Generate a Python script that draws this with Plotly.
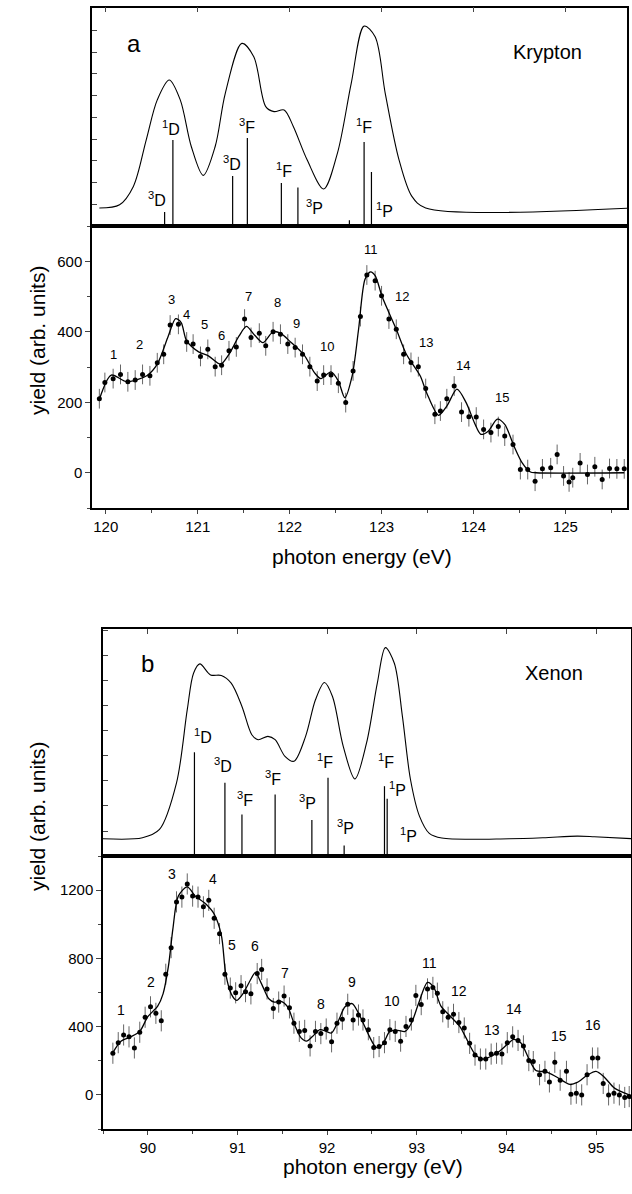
import plotly.graph_objects as go

# ---------------- Panel a: Krypton ----------------
kr_energy = [119.93, 119.99, 120.08, 120.16, 120.24, 120.32, 120.40, 120.48, 120.56, 120.63, 120.70,
             120.79, 120.88, 120.95, 121.03, 121.11, 121.19, 121.26, 121.34, 121.42, 121.51,
             121.58, 121.67, 121.74, 121.82, 121.90, 121.98, 122.06, 122.14, 122.22, 122.30,
             122.37, 122.45, 122.53, 122.61, 122.69, 122.77, 122.84, 122.93, 123.00, 123.08,
             123.16, 123.24, 123.32, 123.40, 123.48, 123.58, 123.64, 123.71, 123.79, 123.87,
             123.95, 124.03, 124.11, 124.19, 124.27, 124.34, 124.43, 124.51, 124.59, 124.67,
             124.75, 124.84, 124.91, 124.98, 125.04, 125.08, 125.16, 125.24, 125.32, 125.40,
             125.48, 125.56, 125.64]
kr_yield = [210, 256, 267, 279, 258, 263, 279, 275, 312, 336, 419,
            421, 371, 365, 330, 350, 301, 305, 346, 357, 436,
            384, 396, 360, 400, 393, 365, 355, 336, 301, 260,
            277, 277, 254, 199, 289, 443, 561, 545, 502, 436,
            407, 336, 313, 301, 239, 166, 175, 210, 246, 172,
            159, 158, 123, 114, 131, 104, 80, 9, 9, -24,
            11, 14, 52, -9, -26, -14, 28, -5, 17, -19,
            12, 11, 11]
kr_err = 28

kr_fit_e = [119.93, 120.06, 120.23, 120.45, 120.56, 120.68, 120.76, 120.82, 120.88, 121.01,
            121.12, 121.25, 121.34, 121.45, 121.53, 121.62, 121.71, 121.82, 121.90, 122.01,
            122.16, 122.27, 122.34, 122.45, 122.53, 122.60, 122.68, 122.75, 122.82, 122.88,
            122.93, 123.01, 123.16, 123.27, 123.42, 123.49, 123.62, 123.71, 123.82, 123.92,
            124.01, 124.08, 124.16, 124.26, 124.34, 124.44, 124.53, 124.62, 124.68, 125.64]
kr_fit_y = [208, 277, 258, 276, 308, 388, 437, 426, 374, 343,
            331, 308, 336, 388, 415, 390, 369, 400, 396, 371,
            333, 284, 267, 286, 260, 213, 275, 407, 549, 570,
            559, 497, 407, 336, 275, 227, 163, 189, 237, 199,
            142, 109, 118, 152, 137, 76, 28, 2, 0, 0]

kr_peak_labels = ["1", "2", "3", "4", "5", "6", "7", "8", "9", "10", "11", "12", "13", "14", "15"]
kr_peak_e = [120.08, 120.37, 120.71, 120.88, 121.07, 121.26, 121.55, 121.87, 122.08, 122.41,
             122.88, 123.22, 123.48, 123.89, 124.31]
kr_peak_y = [336, 363, 492, 450, 420, 390, 500, 483, 422, 358, 633, 499, 369, 305, 213]

kr_theory_e = [119.93, 120.15, 120.30, 120.44, 120.56, 120.69, 120.81, 120.93, 121.06, 121.19,
               121.30, 121.48, 121.61, 121.74, 121.83, 121.94, 122.04, 122.19, 122.37, 122.52,
               122.67, 122.81, 122.93, 123.04, 123.19, 123.33, 123.48, 125.71]
kr_theory_y = [18.0, 21.3, 39.6, 86.2, 126.1, 146.0, 126.1, 79.5, 50.6, 79.5,
               132.7, 182.6, 169.3, 119.4, 114.4, 116.1, 99.5, 66.2, 37.0, 72.9,
               142.7, 199.9, 189.2, 132.7, 66.2, 29.6, 18.0, 18.0]

kr_stick_e = [120.64, 120.73, 121.38, 121.54, 121.91, 122.09, 122.65, 122.81, 122.89]
kr_stick_h = [14, 86, 50, 88, 43, 38.6, 5.7, 84, 54]

kr_term_text = ["<sup>3</sup>D", "<sup>1</sup>D", "<sup>3</sup>D", "<sup>3</sup>F", "<sup>1</sup>F",
                "<sup>3</sup>P", "<sup>1</sup>F", "<sup>1</sup>P"]
kr_term_e = [120.56, 120.71, 121.37, 121.54, 121.94, 122.27, 122.81, 123.03]
kr_term_y = [27, 98, 63, 100, 56, 19, 100, 16]

# ---------------- Panel b: Xenon ----------------
xe_energy = [89.61, 89.67, 89.73, 89.79, 89.85, 89.91, 89.97, 90.03, 90.09, 90.15,
             90.20, 90.26, 90.32, 90.38, 90.44, 90.50, 90.56, 90.62, 90.68, 90.74,
             90.80, 90.86, 90.92, 90.98, 91.04, 91.09, 91.15, 91.22, 91.27, 91.33,
             91.40, 91.46, 91.52, 91.58, 91.63, 91.69, 91.75, 91.81, 91.87, 91.93,
             91.99, 92.05, 92.11, 92.17, 92.23, 92.29, 92.35, 92.40, 92.46, 92.52,
             92.58, 92.64, 92.70, 92.76, 92.82, 92.88, 92.94, 92.99, 93.05, 93.12,
             93.18, 93.23, 93.29, 93.35, 93.41, 93.47, 93.53, 93.59, 93.65, 93.71,
             93.77, 93.83, 93.89, 93.95, 94.01, 94.07, 94.13, 94.19, 94.25, 94.30,
             94.37, 94.43, 94.48, 94.54, 94.60, 94.67, 94.72, 94.78, 94.84, 94.90,
             94.96, 95.02, 95.08, 95.14, 95.20, 95.26, 95.32, 95.37]
xe_yield = [244, 306, 351, 340, 275, 367, 455, 516, 478, 434,
            707, 863, 1131, 1159, 1236, 1165, 1159, 1102, 1140, 1035,
            945, 707, 626, 598, 640, 605, 592, 711, 735, 621,
            506, 544, 579, 510, 420, 372, 378, 287, 372, 359,
            386, 311, 420, 443, 531, 439, 468, 439, 382, 277,
            283, 306, 382, 372, 315, 401, 439, 583, 529, 621,
            630, 596, 487, 455, 472, 424, 392, 302, 233, 210,
            210, 239, 244, 239, 306, 340, 319, 287, 201, 195,
            118, 138, 76, 191, 86, 138, 4, 10, 0, 118,
            216, 216, 67, 0, 10, 0, -15, -10]
xe_err = 62

xe_fit_e = [89.61, 89.70, 89.81, 89.91, 90.00, 90.11, 90.17, 90.23, 90.28, 90.34,
            90.44, 90.53, 90.65, 90.74, 90.82, 90.87, 90.93, 90.99, 91.06, 91.14,
            91.20, 91.27, 91.35, 91.41, 91.48, 91.56, 91.63, 91.71, 91.77, 91.84,
            91.92, 91.99, 92.05, 92.13, 92.20, 92.28, 92.36, 92.47, 92.55, 92.62,
            92.70, 92.79, 92.87, 92.94, 93.02, 93.12, 93.19, 93.27, 93.38, 93.48,
            93.55, 93.65, 93.74, 93.84, 93.93, 94.03, 94.08, 94.16, 94.26, 94.33,
            94.45, 94.56, 94.71, 94.79, 94.90, 95.00, 95.09, 95.21, 95.37]
xe_fit_y = [248, 315, 340, 372, 458, 520, 592, 754, 974, 1165,
            1219, 1165, 1117, 1060, 936, 707, 592, 554, 592, 669,
            716, 649, 563, 544, 550, 516, 420, 334, 315, 344,
            382, 372, 363, 439, 516, 535, 468, 344, 277, 296,
            372, 378, 372, 420, 535, 659, 630, 520, 458, 401,
            334, 239, 210, 229, 258, 306, 325, 306, 201, 143,
            134, 105, 61, 73, 115, 138, 105, 38, 0]

xe_peak_labels = ["1", "2", "3", "4", "5", "6", "7", "8", "9", "10", "11", "12", "13", "14", "15", "16"]
xe_peak_e = [89.70, 90.03, 90.27, 90.73, 90.94, 91.19, 91.53, 91.93, 92.28, 92.72,
             93.14, 93.47, 93.84, 94.08, 94.59, 94.97]
xe_peak_y = [500, 659, 1295, 1264, 879, 873, 716, 535, 663, 550, 770, 607, 382, 502, 344, 407]

xe_theory_e = [89.49, 89.94, 90.13, 90.32, 90.44, 90.51, 90.58, 90.70, 90.82, 90.93,
               91.05, 91.16, 91.23, 91.34, 91.42, 91.53, 91.63, 91.76, 91.87, 91.97,
               92.06, 92.18, 92.31, 92.44, 92.56, 92.65, 92.75, 92.84, 92.93, 93.03,
               93.14, 93.28, 94.03, 94.41, 94.79, 94.98, 95.41]
xe_theory_y = [17.6, 18.6, 27.1, 74.6, 149.2, 186.4, 195.9, 184.7, 184.1, 176.3,
               152.5, 123.7, 118.6, 122.0, 118.6, 101.7, 96.6, 122.0, 159.3, 177.0,
               162.7, 111.9, 78.6, 115.3, 176.3, 212.5, 196.6, 142.4, 78.0, 40.7,
               23.1, 18.3, 17.6, 18.6, 20.3, 19.7, 17.6]

xe_stick_e = [90.52, 90.86, 91.05, 91.42, 91.83, 92.01, 92.19, 92.64, 92.67, 92.93]
xe_stick_h = [105.8, 74.6, 42.4, 62.7, 36.6, 79.7, 10.8, 71.2, 58.3, 2.0]

xe_term_text = ["<sup>1</sup>D", "<sup>3</sup>D", "<sup>3</sup>F", "<sup>3</sup>F", "<sup>3</sup>P",
                "<sup>1</sup>F", "<sup>3</sup>P", "<sup>1</sup>F", "<sup>1</sup>P", "<sup>1</sup>P"]
xe_term_e = [90.62, 90.84, 91.08, 91.40, 91.78, 91.98, 92.21, 92.66, 92.78, 92.91]
xe_term_y = [122, 93, 58, 80, 55, 97, 30, 97, 68, 21]

# ---------------- figure ----------------
W, H = 632, 1194
FONT = "Arial, Liberation Sans, Helvetica, sans-serif"


def px_x(px):
    return px / W


def px_y(py):
    return 1 - py / H


def stick_xy(energies, heights):
    xs, ys = [], []
    for e, h in zip(energies, heights):
        xs += [e, e, None]
        ys += [0, h, None]
    return xs, ys


fig = go.Figure()

# Panel a lower: data + fit
fig.add_trace(go.Scatter(x=kr_energy, y=kr_yield, mode="markers", xaxis="x", yaxis="y",
                         marker=dict(color="black", size=5),
                         error_y=dict(type="constant", value=kr_err, color="#666666", thickness=1, width=0)))
fig.add_trace(go.Scatter(x=kr_fit_e, y=kr_fit_y, mode="lines", xaxis="x", yaxis="y",
                         line=dict(color="black", width=1.3, shape="spline", smoothing=0.8)))
# Panel a upper: theory
fig.add_trace(go.Scatter(x=kr_theory_e, y=kr_theory_y, mode="lines", xaxis="x2", yaxis="y2",
                         line=dict(color="black", width=1.1, shape="spline", smoothing=0.9)))
sx, sy = stick_xy(kr_stick_e, kr_stick_h)
fig.add_trace(go.Scatter(x=sx, y=sy, mode="lines", xaxis="x2", yaxis="y2",
                         line=dict(color="black", width=1.2)))

# Panel b lower
fig.add_trace(go.Scatter(x=xe_energy, y=xe_yield, mode="markers", xaxis="x3", yaxis="y3",
                         marker=dict(color="black", size=5),
                         error_y=dict(type="constant", value=xe_err, color="#666666", thickness=1, width=0)))
fig.add_trace(go.Scatter(x=xe_fit_e, y=xe_fit_y, mode="lines", xaxis="x3", yaxis="y3",
                         line=dict(color="black", width=1.3, shape="spline", smoothing=0.8)))
# Panel b upper
fig.add_trace(go.Scatter(x=xe_theory_e, y=xe_theory_y, mode="lines", xaxis="x4", yaxis="y4",
                         line=dict(color="black", width=1.1, shape="spline", smoothing=0.9)))
sx, sy = stick_xy(xe_stick_e, xe_stick_h)
fig.add_trace(go.Scatter(x=sx, y=sy, mode="lines", xaxis="x4", yaxis="y4",
                         line=dict(color="black", width=1.2)))

KR_RANGE = [119.85, 125.67]
XE_RANGE = [89.50, 95.39]
dom_a_x = [px_x(92), px_x(627)]
dom_b_x = [px_x(103), px_x(631)]
dom_a_up = [px_y(226), px_y(7.5)]
dom_a_lo = [px_y(508), px_y(226)]
dom_b_up = [px_y(856), px_y(629)]
dom_b_lo = [px_y(1129), px_y(856)]

frame = dict(showline=True, linecolor="black", linewidth=1.5, mirror=True,
             showgrid=False, zeroline=False)
tickfont = dict(family=FONT, size=15, color="black")

fig.update_layout(
    width=W, height=H, margin=dict(l=0, r=0, t=0, b=0),
    paper_bgcolor="white", plot_bgcolor="white", showlegend=False,
    font=dict(family=FONT, color="black"),
    # panel a lower
    xaxis=dict(domain=dom_a_x, anchor="y", range=KR_RANGE, dtick=1, tick0=120,
               ticks="outside", ticklen=4, tickwidth=1, tickfont=tickfont,
               minor=dict(dtick=0.5, ticks="outside", ticklen=3, tickwidth=1), **frame),
    yaxis=dict(domain=dom_a_lo, anchor="x", range=[-100, 700], dtick=200, tick0=0,
               ticks="outside", ticklen=5, tickwidth=1, tickfont=tickfont,
               minor=dict(dtick=100, ticks="outside", ticklen=3, tickwidth=1), **frame),
    # panel a upper
    xaxis2=dict(domain=dom_a_x, anchor="y2", range=KR_RANGE, side="top", dtick=1, tick0=120,
                ticks="inside", ticklen=5, tickwidth=1, showticklabels=False, **frame),
    yaxis2=dict(domain=dom_a_up, anchor="x2", range=[0, 218.5], dtick=21.75, tick0=0,
                ticks="inside", ticklen=5, tickwidth=1, showticklabels=False, **frame),
    # overlay ticks on top edge of panel a lower
    xaxis5=dict(overlaying="x", anchor="y", side="top", range=KR_RANGE, dtick=1, tick0=120,
                ticks="inside", ticklen=5, tickwidth=1, showticklabels=False,
                showline=False, showgrid=False, zeroline=False),
    # panel b lower
    xaxis3=dict(domain=dom_b_x, anchor="y3", range=XE_RANGE, dtick=1, tick0=90,
                ticks="outside", ticklen=4, tickwidth=1, tickfont=tickfont,
                minor=dict(dtick=0.5, ticks="outside", ticklen=3, tickwidth=1), **frame),
    yaxis3=dict(domain=dom_b_lo, anchor="x3", range=[-200, 1400], dtick=400, tick0=0,
                ticks="outside", ticklen=5, tickwidth=1, tickfont=tickfont,
                minor=dict(dtick=200, ticks="outside", ticklen=3, tickwidth=1), **frame),
    # panel b upper
    xaxis4=dict(domain=dom_b_x, anchor="y4", range=XE_RANGE, side="top", dtick=1, tick0=90,
                ticks="inside", ticklen=5, tickwidth=1, showticklabels=False, **frame),
    yaxis4=dict(domain=dom_b_up, anchor="x4", range=[0, 231.5], dtick=25.5, tick0=0,
                ticks="inside", ticklen=5, tickwidth=1, showticklabels=False, **frame),
    xaxis6=dict(overlaying="x3", anchor="y3", side="top", range=XE_RANGE, dtick=1, tick0=90,
                ticks="inside", ticklen=5, tickwidth=1, showticklabels=False,
                showline=False, showgrid=False, zeroline=False),
)

ann = []
for t, e, v in zip(kr_peak_labels, kr_peak_e, kr_peak_y):
    ann.append(dict(text=t, x=e, y=v, xref="x", yref="y", showarrow=False,
                    font=dict(family=FONT, size=13, color="black")))
for t, e, v in zip(kr_term_text, kr_term_e, kr_term_y):
    ann.append(dict(text=t, x=e, y=v, xref="x2", yref="y2", showarrow=False,
                    font=dict(family=FONT, size=16, color="black")))
for t, e, v in zip(xe_peak_labels, xe_peak_e, xe_peak_y):
    ann.append(dict(text=t, x=e, y=v, xref="x3", yref="y3", showarrow=False,
                    font=dict(family=FONT, size=14, color="black")))
for t, e, v in zip(xe_term_text, xe_term_e, xe_term_y):
    ann.append(dict(text=t, x=e, y=v, xref="x4", yref="y4", showarrow=False,
                    font=dict(family=FONT, size=16, color="black")))

ann += [
    dict(text="a", x=120.31, y=182.6, xref="x2", yref="y2", showarrow=False,
         font=dict(family=FONT, size=24, color="black")),
    dict(text="Krypton", x=124.81, y=174, xref="x2", yref="y2", showarrow=False,
         font=dict(family=FONT, size=20, color="black")),
    dict(text="b", x=90.0, y=196.6, xref="x4", yref="y4", showarrow=False,
         font=dict(family=FONT, size=24, color="black")),
    dict(text="Xenon", x=94.53, y=186.4, xref="x4", yref="y4", showarrow=False,
         font=dict(family=FONT, size=20, color="black")),
    dict(text="photon energy (eV)", x=px_x(362), y=px_y(556), xref="paper", yref="paper",
         showarrow=False, font=dict(family=FONT, size=21, color="black")),
    dict(text="photon energy (eV)", x=px_x(373), y=px_y(1180), xref="paper", yref="paper",
         showarrow=False, font=dict(family=FONT, size=21, color="black")),
    dict(text="yield (arb. units)", x=px_x(24), y=px_y(264), xref="paper", yref="paper",
         textangle=-90, showarrow=False, font=dict(family=FONT, size=21, color="black")),
    dict(text="yield (arb. units)", x=px_x(24), y=px_y(893), xref="paper", yref="paper",
         textangle=-90, showarrow=False, font=dict(family=FONT, size=21, color="black")),
]
fig.update_layout(annotations=ann)

fig.write_html("out.html")
